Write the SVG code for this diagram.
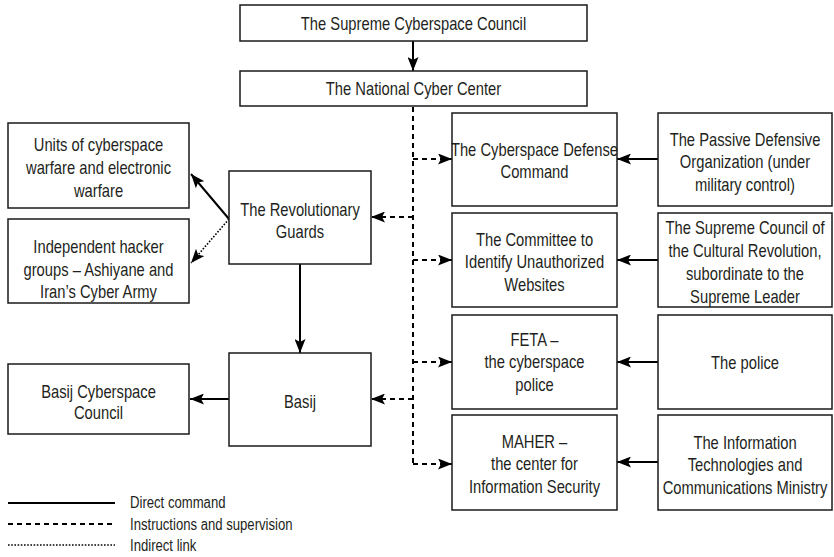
<svg xmlns="http://www.w3.org/2000/svg" width="834" height="557" viewBox="0 0 834 557">
<defs>
<style>
.box{fill:#fff;stroke:#1a1a1a;stroke-width:1.5}
.t{font-family:"Liberation Sans",Arial,sans-serif;font-size:18px;fill:#231f20;text-anchor:middle}
.lg{font-family:"Liberation Sans",Arial,sans-serif;font-size:16px;fill:#231f20}
.solid{fill:none;stroke:#000;stroke-width:2}
.dash{fill:none;stroke:#000;stroke-width:2;stroke-dasharray:5 4}
.dot{fill:none;stroke:#000;stroke-width:1.6;stroke-dasharray:1.6 1.6}
</style>
<marker id="ah" markerUnits="userSpaceOnUse" markerWidth="15" markerHeight="11" viewBox="0 0 15 11" refX="14" refY="5.5" orient="auto">
<path d="M0,0 L14,5.5 L0,11 L3,5.5 Z" fill="#000"/>
</marker>
</defs>
<rect width="834" height="557" fill="#fff"/>

<g id="connectors">
<line class="solid" x1="413" y1="41" x2="413" y2="71" marker-end="url(#ah)"/>
<path class="dash" d="M413,107 V464"/>
<line class="dash" x1="413" y1="159" x2="452" y2="159" marker-end="url(#ah)"/>
<line class="dash" x1="413" y1="260" x2="452" y2="260" marker-end="url(#ah)"/>
<line class="dash" x1="413" y1="362" x2="452" y2="362" marker-end="url(#ah)"/>
<line class="dash" x1="413" y1="464" x2="452" y2="464" marker-end="url(#ah)"/>
<line class="dash" x1="413" y1="217" x2="371" y2="217" marker-end="url(#ah)"/>
<line class="dash" x1="413" y1="399" x2="371" y2="399" marker-end="url(#ah)"/>
<line class="solid" x1="658" y1="159" x2="617" y2="159" marker-end="url(#ah)"/>
<line class="solid" x1="658" y1="260" x2="617" y2="260" marker-end="url(#ah)"/>
<line class="solid" x1="658" y1="362" x2="617" y2="362" marker-end="url(#ah)"/>
<line class="solid" x1="658" y1="462" x2="617" y2="462" marker-end="url(#ah)"/>
<line class="solid" x1="229" y1="219" x2="191" y2="174" marker-end="url(#ah)"/>
<line class="dot" x1="229" y1="219" x2="191" y2="263" marker-end="url(#ah)"/>
<line class="solid" x1="300" y1="264" x2="300" y2="353" marker-end="url(#ah)"/>
<line class="solid" x1="229" y1="399" x2="190" y2="399" marker-end="url(#ah)"/>
</g>

<g id="supreme-council"><rect class="box" x="240" y="5" width="347" height="36"/><g transform="translate(413.5 0) scale(0.82 1)"><text class="t" x="0" y="30">The Supreme Cyberspace Council</text></g></g>
<g id="national-cyber-center"><rect class="box" x="240" y="71" width="347" height="35"/><g transform="translate(413.5 0) scale(0.82 1)"><text class="t" x="0" y="95">The National Cyber Center</text></g></g>

<g id="units"><rect class="box" x="8" y="123" width="181" height="85"/><g transform="translate(98.5 0) scale(0.82 1)"><text class="t" x="0" y="151">Units of cyberspace</text><text class="t" x="0" y="174">warfare and electronic</text><text class="t" x="0" y="197">warfare</text></g></g>
<g id="hackers"><rect class="box" x="8" y="219" width="181" height="84"/><g transform="translate(98.5 0) scale(0.82 1)"><text class="t" x="0" y="253">Independent hacker</text><text class="t" x="0" y="276">groups – Ashiyane and</text><text class="t" x="0" y="298">Iran’s Cyber Army</text></g></g>
<g id="revolutionary-guards"><rect class="box" x="229" y="171" width="142" height="93"/><g transform="translate(300 0) scale(0.82 1)"><text class="t" x="0" y="216">The Revolutionary</text><text class="t" x="0" y="238">Guards</text></g></g>
<g id="basij"><rect class="box" x="229" y="353" width="142" height="93"/><g transform="translate(300 0) scale(0.82 1)"><text class="t" x="0" y="408">Basij</text></g></g>
<g id="basij-council"><rect class="box" x="8" y="364" width="181" height="70"/><g transform="translate(98.5 0) scale(0.82 1)"><text class="t" x="0" y="398">Basij Cyberspace</text><text class="t" x="0" y="419">Council</text></g></g>

<g id="cyber-defense"><rect class="box" x="452" y="113" width="165" height="93"/><g transform="translate(534.5 0) scale(0.82 1)"><text class="t" x="0" y="156">The Cyberspace Defense</text><text class="t" x="0" y="178.5">Command</text></g></g>
<g id="committee"><rect class="box" x="452" y="213" width="165" height="94"/><g transform="translate(534.5 0) scale(0.82 1)"><text class="t" x="0" y="246">The Committee to</text><text class="t" x="0" y="268.5">Identify Unauthorized</text><text class="t" x="0" y="291">Websites</text></g></g>
<g id="feta"><rect class="box" x="452" y="315" width="165" height="94"/><g transform="translate(534.5 0) scale(0.82 1)"><text class="t" x="0" y="346">FETA –</text><text class="t" x="0" y="368.5">the cyberspace</text><text class="t" x="0" y="391">police</text></g></g>
<g id="maher"><rect class="box" x="452" y="415" width="165" height="95"/><g transform="translate(534.5 0) scale(0.82 1)"><text class="t" x="0" y="448">MAHER –</text><text class="t" x="0" y="470.5">the center for</text><text class="t" x="0" y="493">Information Security</text></g></g>

<g id="passive-defense"><rect class="box" x="658" y="113" width="174" height="93"/><g transform="translate(745 0) scale(0.82 1)"><text class="t" x="0" y="146">The Passive Defensive</text><text class="t" x="0" y="168.5">Organization (under</text><text class="t" x="0" y="191">military control)</text></g></g>
<g id="cultural-revolution"><rect class="box" x="658" y="213" width="174" height="94"/><g transform="translate(745 0) scale(0.82 1)"><text class="t" x="0" y="234">The Supreme Council of</text><text class="t" x="0" y="257">the Cultural Revolution,</text><text class="t" x="0" y="280">subordinate to the</text><text class="t" x="0" y="303">Supreme Leader</text></g></g>
<g id="police"><rect class="box" x="658" y="315" width="174" height="94"/><g transform="translate(745 0) scale(0.82 1)"><text class="t" x="0" y="369">The police</text></g></g>
<g id="ict-ministry"><rect class="box" x="658" y="415" width="174" height="95"/><g transform="translate(745 0) scale(0.82 1)"><text class="t" x="0" y="449">The Information</text><text class="t" x="0" y="471.5">Technologies and</text><text class="t" x="0" y="494">Communications Ministry</text></g></g>

<g id="legend">
<line class="solid" x1="8" y1="503" x2="115" y2="503"/>
<line class="dash" x1="8" y1="524" x2="115" y2="524"/>
<line class="dot" x1="8" y1="545" x2="115" y2="545"/>
<g transform="translate(130 0) scale(0.82 1)">
<text class="lg" x="0" y="508.5">Direct command</text>
<text class="lg" x="0" y="530">Instructions and supervision</text>
<text class="lg" x="0" y="551">Indirect link</text>
</g>
</g>
</svg>
